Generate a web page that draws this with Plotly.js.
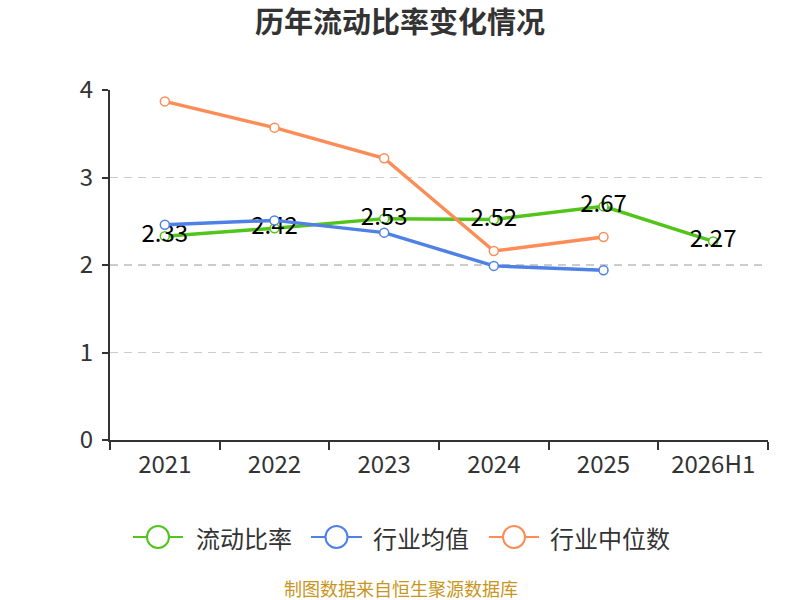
<!DOCTYPE html>
<html>
<head>
<meta charset="utf-8">
<script src="https://cdn.plot.ly/plotly-3.0.1.min.js"></script>
<style>body{margin:0;} #chart{width:800px;height:600px;}</style>
</head>
<body>
<div id="chart"></div>
<script>
var years = ['2021', '2022', '2023', '2024', '2025', '2026H1'];
var ratio = [2.33, 2.42, 2.53, 2.52, 2.67, 2.27];
var indMean = [2.46, 2.51, 2.37, 1.99, 1.94];
var indMedian = [3.87, 3.57, 3.22, 2.16, 2.32];

var seriesNames = ['流动比率', '行业均值', '行业中位数'];
var seriesColors = ['#52c41a', '#4f80e5', '#fd8c57'];

var font = 'Noto Sans CJK SC, Noto Sans, sans-serif';

// plot box in pixels, used for the hand-drawn legend
var plotL = 110, plotR = 32, plotT = 90, plotB = 160;
var plotW = 800 - plotL - plotR, plotH = 600 - plotT - plotB;
function px2x(px) { return (px - plotL) / plotW; }
function px2y(py) { return (600 - plotB - py) / plotH; }

function makeTrace(xs, ys, i) {
    return {
        x: xs,
        y: ys,
        name: seriesNames[i],
        mode: 'lines+markers',
        type: 'scatter',
        line: { color: seriesColors[i], width: 3.5 },
        marker: { size: 9, color: '#fff', line: { color: seriesColors[i], width: 1.5 } },
        showlegend: false,
        cliponaxis: false
    };
}

var trace0 = makeTrace(years, ratio, 0);
trace0.mode = 'lines+markers+text';
trace0.text = ratio.map(function (v) { return v.toFixed(2); });
trace0.textposition = 'middle center';
trace0.textfont = { size: 24, color: '#000', family: font };

var trace1 = makeTrace(years.slice(0, 5), indMean, 1);
var trace2 = makeTrace(years.slice(0, 5), indMedian, 2);

// legend drawn by hand so the symbols match the original size
var legendItems = [
    { line: [133, 183], text: 194 },
    { line: [311, 362], text: 371 },
    { line: [489, 539], text: 548 }
];
var legendY = px2y(537);
var shapes = [];
var annotations = [];
legendItems.forEach(function (it, i) {
    var cx = (it.line[0] + it.line[1]) / 2;
    shapes.push({
        type: 'line', xref: 'paper', yref: 'paper',
        x0: px2x(it.line[0]), x1: px2x(it.line[1]), y0: legendY, y1: legendY,
        line: { color: seriesColors[i], width: 2 }
    });
    shapes.push({
        type: 'circle', xref: 'paper', yref: 'paper',
        xsizemode: 'pixel', ysizemode: 'pixel',
        xanchor: px2x(cx), yanchor: legendY,
        x0: -11, x1: 11, y0: -11, y1: 11,
        fillcolor: '#fff',
        line: { color: seriesColors[i], width: 2 }
    });
    annotations.push({
        text: seriesNames[i], xref: 'paper', yref: 'paper',
        x: px2x(it.text), y: legendY,
        xanchor: 'left', yanchor: 'middle', showarrow: false,
        font: { size: 24, color: '#333', family: font }
    });
});

annotations.push({
    text: '制图数据来自恒生聚源数据库',
    xref: 'paper',
    yref: 'paper',
    x: px2x(401),
    y: px2y(588),
    xanchor: 'center',
    yanchor: 'middle',
    showarrow: false,
    font: { size: 18, color: '#c8961e', family: font }
});

var layout = {
    width: 800,
    height: 600,
    margin: { l: plotL, r: plotR, t: plotT, b: plotB },
    paper_bgcolor: '#fff',
    plot_bgcolor: '#fff',
    font: { family: font, color: '#333' },
    title: {
        text: '<b>历年流动比率变化情况</b>',
        x: 0.5,
        xanchor: 'center',
        y: 0.962,
        yanchor: 'middle',
        font: { size: 29, color: '#333', family: font }
    },
    xaxis: {
        type: 'category',
        tickson: 'boundaries',
        ticks: 'outside',
        ticklen: 8,
        tickcolor: '#333',
        tickwidth: 2,
        showline: true,
        linecolor: '#333',
        linewidth: 2,
        showgrid: false,
        zeroline: false,
        tickfont: { size: 24, color: '#333' },
        ticklabelstandoff: 2,
        range: [-0.5, 5.5]
    },
    yaxis: {
        range: [0, 4],
        tickvals: [0, 1, 2, 3, 4],
        ticks: 'outside',
        ticklen: 6,
        tickcolor: '#333',
        tickwidth: 2,
        showline: true,
        linecolor: '#333',
        linewidth: 2,
        showgrid: true,
        gridcolor: '#cccccc',
        griddash: '8px,6px',
        gridwidth: 1.5,
        zeroline: false,
        tickfont: { size: 24, color: '#333' },
        ticklabelstandoff: 4
    },
    showlegend: false,
    shapes: shapes,
    annotations: annotations
};

var config = { staticPlot: true };

Plotly.newPlot('chart', [trace0, trace1, trace2], layout, config);
</script>
</body>
</html>
